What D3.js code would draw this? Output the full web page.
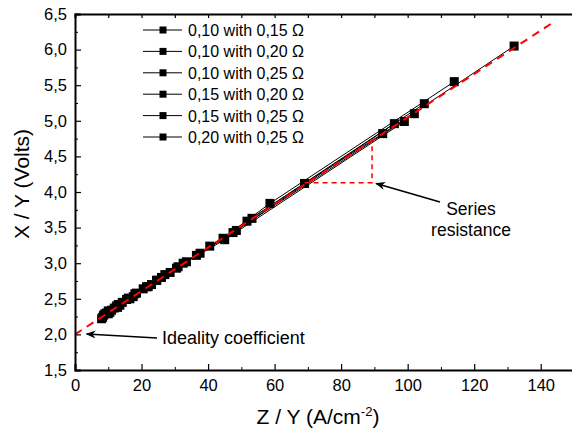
<!DOCTYPE html>
<html>
<head>
<meta charset="utf-8">
<script src="https://cdn.jsdelivr.net/npm/d3@7"></script>
<style>
  body { margin: 0; background: #fff; }
  text { font-family: "Liberation Sans", Arial, sans-serif; fill: #000; }
</style>
</head>
<body>
<div id="graph"></div>
<script>
// series names (legend)
var seriesNames = ['0,10 with 0,15 \u03A9', '0,10 with 0,20 \u03A9', '0,10 with 0,25 \u03A9',
                   '0,15 with 0,20 \u03A9', '0,15 with 0,25 \u03A9', '0,20 with 0,25 \u03A9'];

// x values (Z / Y) for each series
var seriesX = [
    [8.3, 10.5, 13.5, 17.5, 23, 30.5, 40.5, 53.2, 69, 92.5, 132],
    [8.6, 11, 14.2, 18.5, 24.5, 32.5, 44.5, 58.6, 114],
    [9, 11.8, 15.5, 20.5, 27, 37.6, 51.7, 105],
    [8, 10, 12.8, 16.5, 22, 28.6, 47.5, 102],
    [9.5, 12.5, 16, 21.5, 26, 33.5, 45, 99],
    [10, 13, 18, 24.6, 31, 36.5, 48.5, 96]
];
// y values (X / Y) for each series
var seriesY = [
    [2.24, 2.31, 2.41, 2.53, 2.70, 2.93, 3.24, 3.63, 4.12, 4.82, 6.05],
    [2.27, 2.34, 2.45, 2.58, 2.76, 3.00, 3.35, 3.84, 5.55],
    [2.29, 2.37, 2.49, 2.64, 2.84, 3.14, 3.59, 5.24],
    [2.22, 2.29, 2.38, 2.50, 2.67, 2.87, 3.43, 5.10],
    [2.30, 2.40, 2.51, 2.67, 2.80, 3.02, 3.33, 4.99],
    [2.33, 2.42, 2.57, 2.76, 2.95, 3.11, 3.46, 4.96]
];

// red dashed linear fit
var fitX = [0, 144];
var fitY = [2.0, 6.39];
// series resistance triangle
var triX = [69, 89.3, 89.3];
var triY = [4.13, 4.13, 4.72];

var yTicks = [1.5, 2.0, 2.5, 3.0, 3.5, 4.0, 4.5, 5.0, 5.5, 6.0, 6.5];
var xTicks = [0, 20, 40, 60, 80, 100, 120, 140];

var W = 572, H = 432;
var margin = { top: 14, right: -2, bottom: 62, left: 75 };
var width = W - margin.left - margin.right, height = H - margin.top - margin.bottom;

var x = d3.scaleLinear().domain([0, 150]).range([0, width]);
var y = d3.scaleLinear().domain([1.5, 6.5]).range([height, 0]);

var svg = d3.select('#graph').append('svg')
    .attr('width', W).attr('height', H)
    .append('g')
    .attr('transform', 'translate(' + margin.left + ',' + margin.top + ')');

svg.append('defs').append('marker')
    .attr('id', 'arrow')
    .attr('viewBox', '0 0 10 10')
    .attr('refX', 9).attr('refY', 5)
    .attr('markerWidth', 10).attr('markerHeight', 10)
    .attr('markerUnits', 'userSpaceOnUse')
    .attr('orient', 'auto')
    .append('path')
    .attr('d', 'M0,1 L10,5 L0,9 L3,5 Z')
    .attr('fill', '#000');

var line = d3.line().x(function (d) { return x(d[0]); }).y(function (d) { return y(d[1]); });

// data series
seriesX.forEach(function (xs, s) {
    var pts = xs.map(function (v, i) { return [v, seriesY[s][i]]; });
    svg.append('path')
        .datum(pts)
        .attr('d', line)
        .attr('fill', 'none')
        .attr('stroke', '#000')
        .attr('stroke-width', 1);
    svg.selectAll('.dot' + s)
        .data(pts)
        .enter()
        .append('rect')
        .attr('class', 'dot' + s)
        .attr('x', function (d) { return x(d[0]) - 4.5; })
        .attr('y', function (d) { return y(d[1]) - 4.5; })
        .attr('width', 9).attr('height', 9)
        .attr('fill', '#000');
});

// red fit line
svg.append('path')
    .datum(fitX.map(function (v, i) { return [v, fitY[i]]; }))
    .attr('d', line)
    .attr('fill', 'none')
    .attr('stroke', '#ff0000')
    .attr('stroke-width', 2)
    .attr('stroke-dasharray', '8,6');

// triangle
svg.append('path')
    .datum(triX.map(function (v, i) { return [v, triY[i]]; }))
    .attr('d', line)
    .attr('fill', 'none')
    .attr('stroke', '#ff0000')
    .attr('stroke-width', 1.5)
    .attr('stroke-dasharray', '5,4');

// axes
var xAxisB = d3.axisBottom(x).tickValues(xTicks).tickSize(-6).tickPadding(9).tickFormat(d3.format('d'));
var xMinor = d3.axisBottom(x).tickValues(d3.range(10, 150, 20)).tickSize(-3).tickFormat('');
var yAxisL = d3.axisLeft(y).tickValues(yTicks).tickSize(-6).tickPadding(8)
    .tickFormat(function (d) { return d3.format('.1f')(d).replace('.', ','); });
var yMinor = d3.axisLeft(y).tickValues(d3.range(1.75, 6.5, 0.5)).tickSize(-3).tickFormat('');
var xAxisT = d3.axisTop(x).tickValues(d3.range(0, 151, 10)).tickSize(-4).tickFormat('');

function styleAxis(g) {
    g.select('.domain').attr('stroke-width', 2);
    g.selectAll('.tick line').attr('stroke-width', 1.2);
    g.selectAll('text').style('font-size', '16.5px').style('font-family', '"Liberation Sans", Arial, sans-serif');
}

svg.append('g').attr('transform', 'translate(0,' + height + ')').call(xAxisB).call(styleAxis);
svg.append('g').attr('transform', 'translate(0,' + height + ')').call(xMinor).call(function (g) { g.select('.domain').remove(); });
svg.append('g').call(yAxisL).call(styleAxis);
svg.append('g').call(yMinor).call(function (g) { g.select('.domain').remove(); });
svg.append('g').call(xAxisT).call(styleAxis);

// axis titles
svg.append('text')
    .attr('transform', 'translate(' + (-46) + ',' + (height / 2 - 8) + ') rotate(-90)')
    .attr('text-anchor', 'middle')
    .style('font-size', '21px')
    .text('X / Y (Volts)');

var xt = svg.append('text')
    .attr('x', 243).attr('y', height + 54)
    .attr('text-anchor', 'middle')
    .style('font-size', '21px');
xt.append('tspan').text('Z / Y (A/cm');
xt.append('tspan').attr('dy', -8).style('font-size', '13px').text('-2');
xt.append('tspan').attr('dy', 8).text(')');

// legend
var legend = svg.append('g').attr('transform', 'translate(68,16)');
seriesNames.forEach(function (name, i) {
    var ly = i * 21.4;
    legend.append('line').attr('x1', 0).attr('x2', 39).attr('y1', ly).attr('y2', ly)
        .attr('stroke', '#000').attr('stroke-width', 1);
    legend.append('rect').attr('x', 16.5).attr('y', ly - 3.5).attr('width', 7).attr('height', 7).attr('fill', '#000');
    legend.append('text').attr('x', 45).attr('y', ly + 6).style('font-size', '16px').text(name);
});

// annotations
svg.append('line')
    .attr('x1', 82).attr('y1', 324).attr('x2', x(3.5)).attr('y2', 320)
    .attr('stroke', '#000').attr('stroke-width', 1.5)
    .attr('marker-end', 'url(#arrow)');
svg.append('text').attr('x', 87).attr('y', 330).style('font-size', '18px').text('Ideality coefficient');

svg.append('line')
    .attr('x1', 365).attr('y1', 188).attr('x2', x(90.5)).attr('y2', y(4.12))
    .attr('stroke', '#000').attr('stroke-width', 1.5)
    .attr('marker-end', 'url(#arrow)');
svg.append('text').attr('x', 396).attr('y', 201).attr('text-anchor', 'middle').style('font-size', '17.5px').text('Series');
svg.append('text').attr('x', 396).attr('y', 222).attr('text-anchor', 'middle').style('font-size', '17.5px').text('resistance');
</script>
</body>
</html>
